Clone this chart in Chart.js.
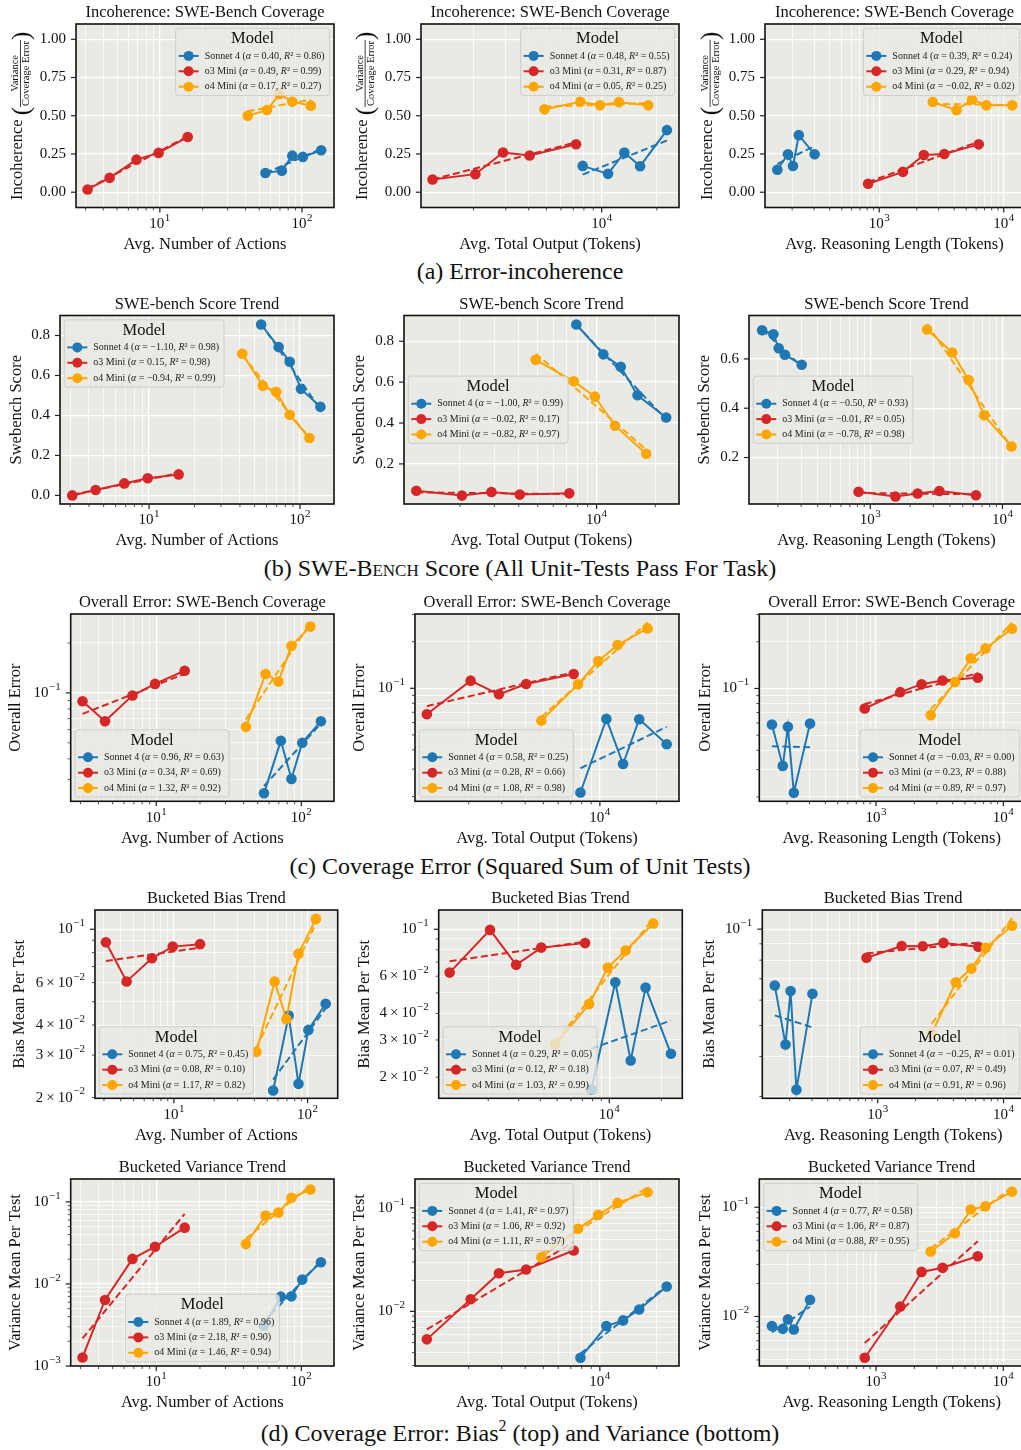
<!DOCTYPE html>
<html>
<head>
<meta charset="utf-8">
<title>Incoherence and error scaling</title>
<script src="https://cdn.jsdelivr.net/npm/chart.js@4.4.1/dist/chart.umd.min.js"></script>
<style>
  html, body { margin: 0; padding: 0; background: #fff; }
  body { position: relative; width: 1021px; height: 1450px; overflow: hidden;
         font-family: "Liberation Serif", "Times New Roman", serif; color: #111; }
  canvas { position: absolute; }
  .cap { position: absolute; left: 0; width: 1040px; text-align: center;
         font-size: 24px; line-height: 24px; white-space: nowrap; }
  .sc { font-variant: small-caps; }
  sup { font-size: 16px; line-height: 0; vertical-align: 10px; }
</style>
</head>
<body>
<div class="cap" style="top:259px">(a) Error-incoherence</div>
<div class="cap" style="top:556px">(b) <span class="sc">SWE-Bench</span> Score (All Unit-Tests Pass For Task)</div>
<div class="cap" style="top:854px">(c) Coverage Error (Squared Sum of Unit Tests)</div>
<div class="cap" style="top:1421px">(d) Coverage Error: Bias<sup>2</sup> (top) and Variance (bottom)</div>

<script>
// --- MODELS ---
const MODELS = ['Sonnet 4', 'o3 Mini', 'o4 Mini'];
const COLORS = ['#1f77b4', '#d62728', '#ffa500'];
const FONT = '"Liberation Serif", "Times New Roman", serif';
const BG = '#eaeae4';

// --- X VALUES (same per model in every row) ---
const actionsSonnet = [55.3, 72.2, 85.5, 101.5, 136.5];
const actionsO3 = [3.1, 4.43, 6.85, 9.8, 15.7];
const actionsO4 = [41.5, 56.7, 69.5, 85.5, 115.5];
const outputSonnet = [7880, 10830, 13290, 16200, 22700];
const outputO3 = [1197, 2048, 2898, 4046, 7250];
const outputO4 = [4880, 7650, 9800, 12420, 17950];
const reasonSonnet = [152, 185, 203, 226, 303];
const reasonO3 = [815, 1550, 2280, 3330, 6300];
const reasonO4 = [2690, 4170, 5550, 7250, 11700];

// tick labels
const actionTicks = [10, 100];
const outputTicks = [10000];
const reasonTicks = [1000, 10000];
const incohTicks = [0, 0.25, 0.5, 0.75, 1];
const sweTicks = [0, 0.2, 0.4, 0.6, 0.8];
const errTicks = [0.1];
const biasTicks = [0.02, 0.03, 0.04, 0.06, 0.1];
const biasTicksShort = [0.1];
const varTicks = [0.001, 0.01, 0.1];

// --- (a) incoherence ---
const incohActSonnet = [0.126, 0.141, 0.239, 0.231, 0.274];
const incohActO3 = [0.018, 0.094, 0.213, 0.257, 0.361];
const incohActO4 = [0.500, 0.537, 0.642, 0.592, 0.566];
const incohOutSonnet = [0.172, 0.120, 0.260, 0.170, 0.406];
const incohOutO3 = [0.083, 0.118, 0.260, 0.240, 0.314];
const incohOutO4 = [0.542, 0.591, 0.568, 0.589, 0.568];
const incohReaSonnet = [0.147, 0.248, 0.171, 0.373, 0.248];
const incohReaO3 = [0.055, 0.133, 0.243, 0.250, 0.313];
const incohReaO4 = [0.590, 0.536, 0.607, 0.568, 0.568];
const incohActFit = [[0.40, 0.86], [0.49, 0.99], [0.17, 0.27]];
const incohOutFit = [[0.48, 0.55], [0.31, 0.87], [0.05, 0.25]];
const incohReaFit = [[0.39, 0.24], [0.29, 0.94], [-0.02, 0.02]];

// --- (b) swe-bench score ---
const sweActSonnet = [0.855, 0.742, 0.669, 0.533, 0.443];
const sweActO3 = [0.000, 0.027, 0.060, 0.086, 0.105];
const sweActO4 = [0.709, 0.548, 0.518, 0.403, 0.287];
const sweOutSonnet = [0.882, 0.736, 0.675, 0.536, 0.427];
const sweOutO3 = [0.069, 0.045, 0.063, 0.050, 0.056];
const sweOutO4 = [0.709, 0.604, 0.529, 0.387, 0.250];
const sweReaSonnet = [0.716, 0.700, 0.643, 0.617, 0.576];
const sweReaO3 = [0.061, 0.042, 0.054, 0.064, 0.047];
const sweReaO4 = [0.719, 0.626, 0.514, 0.371, 0.245];
const sweActFit = [[-1.10, 0.98], [0.15, 0.98], [-0.94, 0.99]];
const sweOutFit = [[-1.00, 0.99], [-0.02, 0.17], [-0.82, 0.97]];
const sweReaFit = [[-0.50, 0.93], [-0.01, 0.05], [-0.78, 0.98]];

// --- (c) overall error ---
const errActSonnet = [0.0248, 0.0514, 0.0303, 0.0500, 0.0675];
const errActO3 = [0.0891, 0.0675, 0.0964, 0.1133, 0.136];
const errActO4 = [0.0624, 0.130, 0.117, 0.192, 0.251];
const errOutSonnet = [0.0212, 0.0634, 0.0324, 0.0631, 0.0435];
const errOutO3 = [0.0679, 0.112, 0.0914, 0.1066, 0.1237];
const errOutO4 = [0.0618, 0.106, 0.150, 0.1905, 0.2437];
const errReaSonnet = [0.0586, 0.0317, 0.0566, 0.0213, 0.0594];
const errReaO3 = [0.0743, 0.0947, 0.1066, 0.1127, 0.1173];
const errReaO4 = [0.0673, 0.1099, 0.1563, 0.1813, 0.2427];
const errActFit = [[0.96, 0.63], [0.34, 0.69], [1.32, 0.92]];
const errOutFit = [[0.58, 0.25], [0.28, 0.66], [1.08, 0.98]];
const errReaFit = [[-0.03, 0.00], [0.23, 0.88], [0.89, 0.97]];

// --- (d) bias ---
const biasActSonnet = [0.0214, 0.0438, 0.0228, 0.0382, 0.0490];
const biasActO3 = [0.0883, 0.0607, 0.0758, 0.0847, 0.0867];
const biasActO4 = [0.0310, 0.0607, 0.0423, 0.0792, 0.1104];
const biasOutSonnet = [0.0175, 0.0562, 0.0240, 0.0530, 0.0258];
const biasOutO3 = [0.0624, 0.0993, 0.0679, 0.0819, 0.0860];
const biasOutO4 = [0.0286, 0.0443, 0.0659, 0.0793, 0.1064];
const biasReaSonnet = [0.0667, 0.0436, 0.0641, 0.0315, 0.0628];
const biasReaO3 = [0.0814, 0.0886, 0.0884, 0.0906, 0.0881];
const biasReaO4 = [0.0472, 0.0682, 0.0753, 0.0875, 0.1025];
const biasActFit = [[0.75, 0.45], [0.08, 0.10], [1.17, 0.82]];
const biasOutFit = [[0.29, 0.05], [0.12, 0.18], [1.03, 0.99]];
const biasReaFit = [[-0.25, 0.01], [0.07, 0.49], [0.91, 0.96]];

// --- (d) variance ---
const varActSonnet = [0.00309, 0.00700, 0.00706, 0.0113, 0.0184];
const varActO3 = [0.00127, 0.00637, 0.0202, 0.0284, 0.0485];
const varActO4 = [0.0306, 0.0680, 0.0740, 0.112, 0.1415];
const varOutSonnet = [0.00357, 0.00722, 0.00819, 0.01045, 0.0174];
const varOutO3 = [0.00537, 0.0131, 0.0234, 0.0254, 0.0387];
const varOutO4 = [0.0334, 0.0627, 0.0856, 0.1117, 0.1416];
const varReaSonnet = [0.00817, 0.0077, 0.0094, 0.0076, 0.0142];
const varReaO3 = [0.00419, 0.01233, 0.0256, 0.0279, 0.0356];
const varReaO4 = [0.0394, 0.0578, 0.0952, 0.102, 0.139];
const varActFit = [[1.89, 0.96], [2.18, 0.90], [1.46, 0.94]];
const varOutFit = [[1.41, 0.97], [1.06, 0.92], [1.11, 0.97]];
const varReaFit = [[0.77, 0.58], [1.06, 0.87], [0.88, 0.95]];

// --- LAYOUT ---
const xAxes = [
  { series: [actionsSonnet, actionsO3, actionsO4], min: 2.57, max: 168, labels: actionTicks, title: 'Avg. Number of Actions' },
  { series: [outputSonnet, outputO3, outputO4], min: 1035, max: 26400, labels: outputTicks, title: 'Avg. Total Output (Tokens)' },
  { series: [reasonSonnet, reasonO3, reasonO4], min: 121, max: 14540, labels: reasonTicks, title: 'Avg. Reasoning Length (Tokens)' }
];

const rows = [
  { title: 'Incoherence: SWE-Bench Coverage', yTitle: null, logY: false, dec: 2, top: 24, bottom: 207.5, panels: [
    { ys: [incohActSonnet, incohActO3, incohActO4], fit: incohActFit, yTicks: incohTicks, yMin: -0.1, yMax: 1.1, left: 76, right: 334, yOff: 58, legend: 'ur' },
    { ys: [incohOutSonnet, incohOutO3, incohOutO4], fit: incohOutFit, yTicks: incohTicks, yMin: -0.1, yMax: 1.1, left: 421, right: 679, yOff: 58.5, legend: 'ur' },
    { ys: [incohReaSonnet, incohReaO3, incohReaO4], fit: incohReaFit, yTicks: incohTicks, yMin: -0.1, yMax: 1.1, left: 765, right: 1024, yOff: 57.5, legend: 'ur' }
  ]},
  { title: 'SWE-bench Score Trend', yTitle: 'Swebench Score', logY: false, dec: 1, top: 315.5, bottom: 504, panels: [
    { ys: [sweActSonnet, sweActO3, sweActO4], fit: sweActFit, yTicks: sweTicks, yMin: -0.043, yMax: 0.90, left: 60, right: 334, yOff: 43.5, legend: 'ul' },
    { ys: [sweOutSonnet, sweOutO3, sweOutO4], fit: sweOutFit, yTicks: sweTicks, yMin: 0.004, yMax: 0.926, left: 404, right: 679, yOff: 44, legend: 'cl' },
    { ys: [sweReaSonnet, sweReaO3, sweReaO4], fit: sweReaFit, yTicks: sweTicks, yMin: 0.0115, yMax: 0.776, left: 749, right: 1024, yOff: 44, legend: 'cl' }
  ]},
  { title: 'Overall Error: SWE-Bench Coverage', yTitle: 'Overall Error', logY: true, top: 614, bottom: 801.3, panels: [
    { ys: [errActSonnet, errActO3, errActO4], fit: errActFit, yTicks: errTicks, yMin: 0.0222, yMax: 0.299, left: 70.7, right: 334, yOff: 55, legend: 'll' },
    { ys: [errOutSonnet, errOutO3, errOutO4], fit: errOutFit, yTicks: errTicks, yMin: 0.0186, yMax: 0.302, left: 415, right: 679, yOff: 55, legend: 'll' },
    { ys: [errReaSonnet, errReaO3, errReaO4], fit: errReaFit, yTicks: errTicks, yMin: 0.01875, yMax: 0.302, left: 759.3, right: 1024, yOff: 54, legend: 'lr' }
  ]},
  { title: 'Bucketed Bias Trend', yTitle: 'Bias Mean Per Test', logY: true, top: 910, bottom: 1098.3, panels: [
    { ys: [biasActSonnet, biasActO3, biasActO4], fit: biasActFit, yTicks: biasTicks, yMin: 0.01986, yMax: 0.1202, left: 95, right: 337.7, yOff: 75, legend: 'll' },
    { ys: [biasOutSonnet, biasOutO3, biasOutO4], fit: biasOutFit, yTicks: biasTicks, yMin: 0.0159, yMax: 0.1233, left: 438.7, right: 682.3, yOff: 74.5, legend: 'll' },
    { ys: [biasReaSonnet, biasReaO3, biasReaO4], fit: biasReaFit, yTicks: biasTicksShort, yMin: 0.0296, yMax: 0.1148, left: 762.3, right: 1024, yOff: 53, legend: 'lr' }
  ]},
  { title: 'Bucketed Variance Trend', yTitle: 'Variance Mean Per Test', logY: true, top: 1179, bottom: 1366, panels: [
    { ys: [varActSonnet, varActO3, varActO4], fit: varActFit, yTicks: varTicks, yMin: 0.001, yMax: 0.19, left: 70.7, right: 334, yOff: 55, legend: 'lc' },
    { ys: [varOutSonnet, varOutO3, varOutO4], fit: varOutFit, yTicks: varTicks, yMin: 0.00297, yMax: 0.19, left: 415, right: 679, yOff: 55, legend: 'ul' },
    { ys: [varReaSonnet, varReaO3, varReaO4], fit: varReaFit, yTicks: varTicks, yMin: 0.00352, yMax: 0.1815, left: 759.3, right: 1024, yOff: 54, legend: 'ul' }
  ]}
];

// --- HELPERS ---
const num = v => (v < 0 ? '\u2212' : '') + Math.abs(v).toFixed(2);

function logTicks(min, max) {
  const out = [];
  for (let e = Math.floor(Math.log10(min)); e <= Math.ceil(Math.log10(max)); e++) {
    for (let k = 1; k <= 9; k++) {
      const v = k * Math.pow(10, e);
      if (v >= min && v <= max) out.push({ value: v, major: k === 1 });
    }
  }
  return out;
}

// least squares in plotted space (log x, linear or log y)
function fitLine(xs, ys, logY) {
  const X = xs.map(Math.log10), Y = ys.map(v => logY ? Math.log10(v) : v);
  const mx = X.reduce((a, b) => a + b, 0) / X.length, my = Y.reduce((a, b) => a + b, 0) / Y.length;
  let sxy = 0, sxx = 0;
  X.forEach((x, i) => { sxy += (x - mx) * (Y[i] - my); sxx += (x - mx) * (x - mx); });
  const b = sxy / sxx, a = my - b * mx;
  const f = x => { const v = a + b * Math.log10(x); return logY ? Math.pow(10, v) : v; };
  const x0 = Math.min(...xs), x1 = Math.max(...xs);
  return [{ x: x0, y: f(x0) }, { x: x1, y: f(x1) }];
}

function drawPow(ctx, v, x, y, align) {
  const e = Math.floor(Math.log10(v) + 1e-9);
  const m = Math.round(v / Math.pow(10, e));
  const base = (m === 1 ? '' : m + '\u2009\u00d7\u2009') + '10';
  const sup = e < 0 ? '\u2212' + (-e) : String(e);
  ctx.font = `15px ${FONT}`;
  const wb = ctx.measureText(base).width;
  ctx.font = `11px ${FONT}`;
  const ws = ctx.measureText(sup).width;
  const w = wb + ws + 0.5;
  const x0 = align === 'right' ? x - w : x - w / 2;
  ctx.textAlign = 'left';
  ctx.textBaseline = 'middle';
  ctx.font = `15px ${FONT}`;
  ctx.fillText(base, x0, y);
  ctx.font = `11px ${FONT}`;
  ctx.fillText(sup, x0 + wb + 0.5, y - 6);
}

function drawFracTitle(ctx, cx, cy) {
  ctx.save();
  ctx.translate(cx, cy);
  ctx.rotate(-Math.PI / 2);
  const main = `16.5px ${FONT}`, small = `10.5px ${FONT}`, paren = `25px ${FONT}`;
  ctx.font = main;
  const wMain = ctx.measureText('Incoherence').width, wSp = ctx.measureText(' ').width;
  ctx.font = paren;
  const wP = ctx.measureText('(').width;
  ctx.font = small;
  const wF = Math.max(ctx.measureText('Variance').width, ctx.measureText('Coverage Error').width) + 2;
  let x = -(wMain + wSp + wP + wF + wP) / 2;
  ctx.fillStyle = '#111';
  ctx.textAlign = 'left';
  ctx.textBaseline = 'middle';
  ctx.font = main;
  ctx.fillText('Incoherence', x, 0);
  x += wMain + wSp;
  ctx.textBaseline = 'alphabetic';
  ctx.font = paren;
  ctx.fillText('(', x, 10.5);
  x += wP;
  ctx.font = small;
  ctx.textAlign = 'center';
  ctx.fillText('Variance', x + wF / 2, 0.3);
  ctx.fillText('Coverage Error', x + wF / 2, 11.3);
  ctx.fillRect(x, 2.2, wF, 0.8);
  x += wF;
  ctx.textAlign = 'left';
  ctx.font = paren;
  ctx.fillText(')', x, 10.5);
  ctx.restore();
}

// legend entry as runs of upright / italic text
function legendRuns(k, f) {
  return [
    [MODELS[k] + ' (', false], ['\u03b1', true], [' = ' + num(f[0]) + ', ', false],
    ['R', true], ['\u00b2 = ' + num(f[1]) + ')', false]
  ];
}
function runsWidth(ctx, runs) {
  let w = 0;
  runs.forEach(([t, it]) => { ctx.font = `${it ? 'italic ' : ''}10px ${FONT}`; w += ctx.measureText(t).width; });
  return w;
}

function drawLegend(chart, s) {
  const { ctx, chartArea: a } = chart;
  ctx.save();
  const entries = s.fit.map((f, k) => legendRuns(k, f));
  const tw = Math.max(...entries.map(r => runsWidth(ctx, r)));
  const w = 30 + tw + 4, h = 67.3, pad = 4.3;
  let x, y;
  if (s.legend[1] === 'r') x = a.right - pad - w;
  else if (s.legend[1] === 'l') x = a.left + pad;
  else x = (a.left + a.right - w) / 2;
  if (s.legend[0] === 'u') y = a.top + pad;
  else if (s.legend[0] === 'l') y = a.bottom - pad - h;
  else y = (a.top + a.bottom - h) / 2;

  ctx.beginPath();
  ctx.roundRect(x, y, w, h, 3);
  ctx.fillStyle = 'rgba(234,234,228,0.8)';
  ctx.fill();
  ctx.strokeStyle = 'rgba(200,200,200,0.85)';
  ctx.lineWidth = 1;
  ctx.stroke();

  ctx.fillStyle = '#111';
  ctx.textAlign = 'center';
  ctx.textBaseline = 'middle';
  ctx.font = `16.5px ${FONT}`;
  ctx.fillText('Model', x + w / 2, y + 10.5);

  entries.forEach((runs, k) => {
    const yy = y + 27.6 + k * 15.4;
    ctx.strokeStyle = COLORS[k];
    ctx.lineWidth = 2;
    ctx.beginPath(); ctx.moveTo(x + 3, yy); ctx.lineTo(x + 23, yy); ctx.stroke();
    ctx.fillStyle = COLORS[k];
    ctx.beginPath(); ctx.arc(x + 13, yy, 5, 0, Math.PI * 2); ctx.fill();
    ctx.fillStyle = '#222';
    ctx.textAlign = 'left';
    let tx = x + 29;
    runs.forEach(([t, it]) => {
      ctx.font = `${it ? 'italic ' : ''}10px ${FONT}`;
      ctx.fillText(t, tx, yy);
      tx += ctx.measureText(t).width;
    });
  });
  ctx.restore();
}

function drawAxes(chart, s) {
  const { ctx, chartArea: a } = chart;
  const xs = chart.scales.x, ys = chart.scales.y;
  ctx.save();
  ctx.strokeStyle = '#111';
  ctx.lineWidth = 1.6;
  ctx.strokeRect(a.left, a.top, a.right - a.left, a.bottom - a.top);

  ctx.strokeStyle = '#222';
  xs.ticks.forEach(t => {
    const p = xs.getPixelForValue(t.value);
    ctx.lineWidth = t.major ? 1.2 : 0.8;
    ctx.beginPath(); ctx.moveTo(p, a.bottom); ctx.lineTo(p, a.bottom + (t.major ? 5 : 3)); ctx.stroke();
  });
  ys.ticks.forEach(t => {
    const p = ys.getPixelForValue(t.value);
    ctx.lineWidth = t.major ? 1.2 : 0.8;
    ctx.beginPath(); ctx.moveTo(a.left, p); ctx.lineTo(a.left - (t.major ? 5 : 3), p); ctx.stroke();
  });

  ctx.fillStyle = '#111';
  s.xLabels.forEach(v => {
    if (v < xs.min || v > xs.max) return;
    drawPow(ctx, v, xs.getPixelForValue(v), a.bottom + 16.5, 'center');
  });
  s.yTicks.forEach(v => {
    if (v < ys.min || v > ys.max) return;
    const p = ys.getPixelForValue(v);
    if (s.logY) drawPow(ctx, v, a.left - 10, p, 'right');
    else {
      ctx.font = `15px ${FONT}`;
      ctx.textAlign = 'right';
      ctx.textBaseline = 'middle';
      ctx.fillText(v.toFixed(s.dec), a.left - 10, p);
    }
  });

  const cx = (a.left + a.right) / 2, cy = (a.top + a.bottom) / 2;
  ctx.font = `16.5px ${FONT}`;
  ctx.textAlign = 'center';
  ctx.textBaseline = 'middle';
  ctx.fillText(s.title, cx, a.top - 11);
  ctx.fillText(s.xTitle, cx, a.bottom + 37);
  if (s.yTitle) {
    ctx.save();
    ctx.translate(a.left - s.yOff, cy);
    ctx.rotate(-Math.PI / 2);
    ctx.fillText(s.yTitle, 0, 0);
    ctx.restore();
  } else {
    drawFracTitle(ctx, a.left - s.yOff, cy);
  }
  ctx.restore();
}

const deco = {
  id: 'deco',
  beforeDraw(chart) {
    const { ctx, chartArea: a } = chart;
    ctx.save();
    ctx.fillStyle = BG;
    ctx.fillRect(a.left, a.top, a.right - a.left, a.bottom - a.top);
    ctx.restore();
  },
  afterDatasetsDraw(chart) { drawLegend(chart, chart.canvas._spec); },
  afterDraw(chart) { drawAxes(chart, chart.canvas._spec); }
};

const gridOpts = {
  color: '#ffffff',
  lineWidth: c => (c.tick && c.tick.major ? 1.3 : 0.7),
  drawTicks: false
};

// --- BUILD PANELS ---
rows.forEach(row => row.panels.forEach((p, c) => {
  const col = xAxes[c];
  const cl = Math.floor(p.left - p.yOff - 14), ct = Math.floor(row.top - 26);
  const yw = p.left - cl, pt = row.top - ct;
  const W = Math.ceil(p.right - cl) + 6, H = Math.ceil(row.bottom - ct) + 52;
  const pr = W - (p.right - cl), xh = H - (row.bottom - ct);

  const cv = document.createElement('canvas');
  cv.width = W; cv.height = H;
  cv.style.left = cl + 'px'; cv.style.top = ct + 'px';
  cv.style.width = W + 'px'; cv.style.height = H + 'px';
  document.body.appendChild(cv);
  cv._spec = { title: row.title, yTitle: row.yTitle, xTitle: col.title, logY: row.logY, dec: row.dec,
               xLabels: col.labels, yTicks: p.yTicks, yOff: p.yOff, fit: p.fit, legend: p.legend };

  const datasets = [];
  for (let k = 0; k < 3; k++) {
    const xs = col.series[k], ys = p.ys[k];
    datasets.push({
      data: xs.map((x, i) => ({ x, y: ys[i] })),
      borderColor: COLORS[k], backgroundColor: COLORS[k], pointBackgroundColor: COLORS[k],
      borderWidth: 2, pointRadius: 5.3, pointBorderWidth: 0, pointHoverRadius: 0, tension: 0,
      order: 10 - 2 * k
    });
    datasets.push({
      data: fitLine(xs, ys, row.logY),
      borderColor: COLORS[k], borderWidth: 2, borderDash: [7, 3.5], pointRadius: 0, tension: 0,
      order: 9 - 2 * k
    });
  }

  new Chart(cv, {
    type: 'line',
    data: { datasets },
    options: {
      responsive: false, animation: false, devicePixelRatio: 1, events: [],
      layout: { padding: { top: pt, right: pr, left: 0, bottom: 0 } },
      plugins: { legend: { display: false }, tooltip: { enabled: false } },
      scales: {
        x: {
          type: 'logarithmic', min: col.min, max: col.max,
          ticks: { display: false }, grid: gridOpts, border: { display: false },
          afterBuildTicks: sc => { sc.ticks = logTicks(sc.min, sc.max); },
          afterFit: sc => { sc.height = xh; }
        },
        y: {
          type: row.logY ? 'logarithmic' : 'linear', min: p.yMin, max: p.yMax,
          ticks: { display: false }, grid: gridOpts, border: { display: false },
          afterBuildTicks: sc => {
            sc.ticks = row.logY ? logTicks(sc.min, sc.max)
              : p.yTicks.filter(v => v >= sc.min && v <= sc.max).map(v => ({ value: v, major: true }));
          },
          afterFit: sc => { sc.width = yw; }
        }
      }
    },
    plugins: [deco]
  });
}));
</script>
</body>
</html>
